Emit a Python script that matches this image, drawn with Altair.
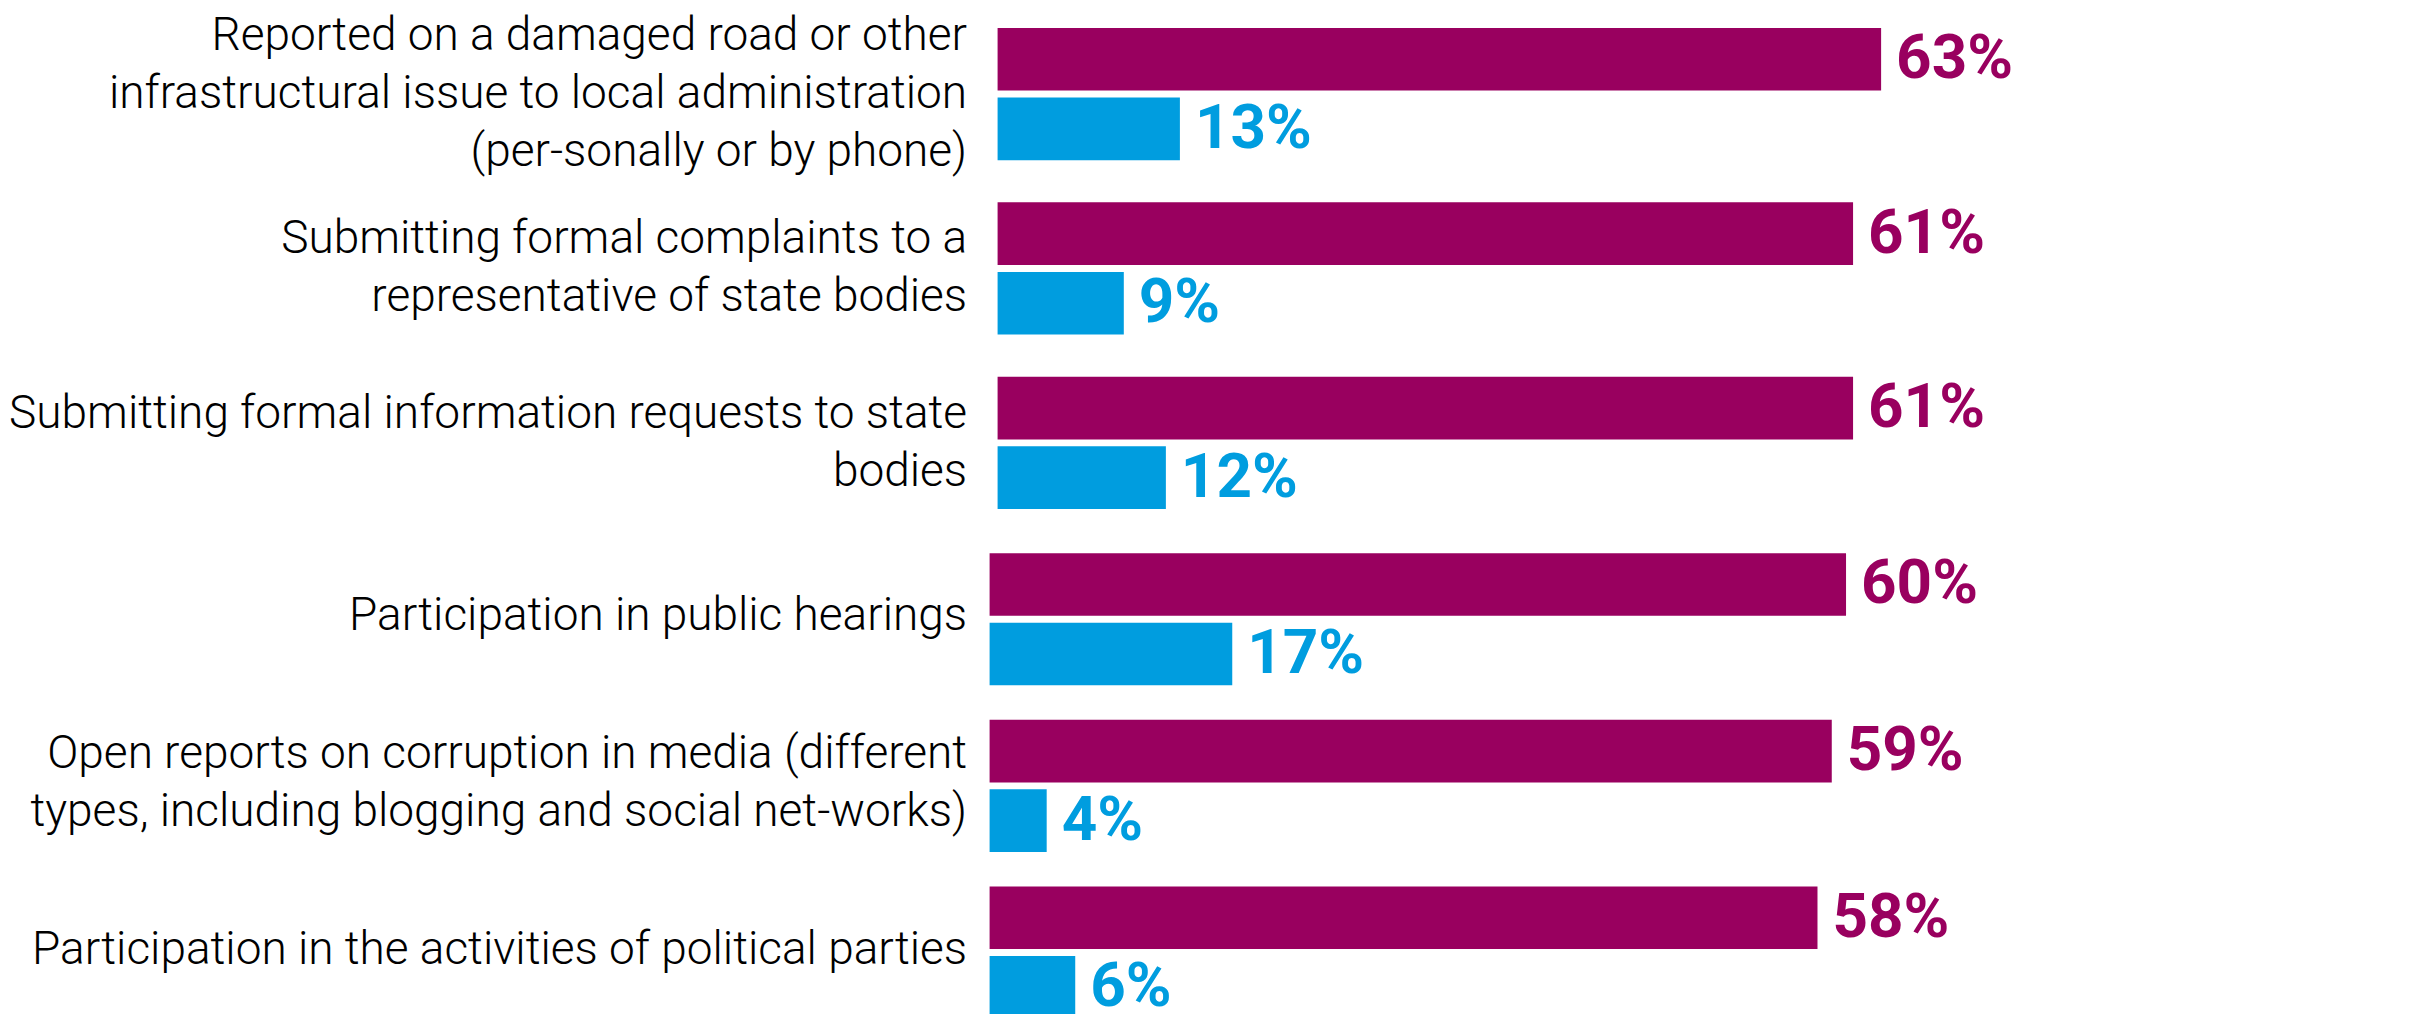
import altair as alt
import pandas as pd

categories = [
    "Reported on a damaged road or other\ninfrastructural issue to local administration\n(per-sonally or by phone)",
    "Submitting formal complaints to a\nrepresentative of state bodies",
    "Submitting formal information requests to state\nbodies",
    "Participation in public hearings",
    "Open reports on corruption in media (different\ntypes, including blogging and social net-works)",
    "Participation in the activities of political parties",
]
series_names = ["Series A", "Series B"]
series_a = [63, 61, 61, 60, 59, 58]
series_b = [13, 9, 12, 17, 4, 6]
colors = ["#99005F", "#009DDF"]

rows = []
for c, a, b in zip(categories, series_a, series_b):
    rows.append({"category": c, "series": series_names[0], "value": a, "label": f"{a}%"})
    rows.append({"category": c, "series": series_names[1], "value": b, "label": f"{b}%"})
df = pd.DataFrame(rows)

LABEL_FONT = "Roboto"
VALUE_FONT = "Roboto"
LINE_H = 58


def panel(cats, width, height, x_min, x_max, pad_inner, pad_outer):
    sub = df[df["category"].isin(cats)]
    y = alt.Y(
        "category:N",
        sort=cats,
        scale=alt.Scale(paddingInner=pad_inner, paddingOuter=pad_outer),
        axis=alt.Axis(
            title=None, domain=False, ticks=False, grid=False,
            labelExpr="split(datum.label, '\\n')",
            labelOffset=alt.ExprRef(expr=f"-(length(split(datum.label, '\\n')) - 1) * {LINE_H / 2}"),
            labelFont=LABEL_FONT, labelFontSize=46, labelFontWeight=300,
            labelColor="#000000", labelPadding=23, labelLineHeight=LINE_H,
            labelAlign="right", labelBaseline="middle", labelLimit=0,
        ),
    )
    yoff = alt.YOffset("series:N", sort=series_names, scale=alt.Scale(paddingInner=0.1))
    color = alt.Color("series:N", scale=alt.Scale(domain=series_names, range=colors), legend=None)
    x = alt.X("value:Q", scale=alt.Scale(domain=[x_min, x_max], nice=False, zero=False), axis=None)
    base = alt.Chart(sub)
    bars = base.mark_bar().encode(y=y, yOffset=yoff, x=x, x2=alt.datum(0), color=color)
    text = base.mark_text(
        align="left", baseline="middle", dx=15, font=VALUE_FONT, fontSize=62, fontWeight="bold"
    ).encode(y=y, yOffset=yoff, x=x, text="label:N", color=color)
    return (bars + text).properties(width=width, height=height)


top = panel(categories[:3], 1411, 520.7, -0.57, 100, 0.242, 0.113)
bottom = panel(categories[3:], 1428, 508.4, 0, 100, 0.24, 0.145)

chart = (
    alt.vconcat(top, bottom, spacing=0)
    .properties(padding=0, background="#ffffff")
    .configure_view(strokeWidth=0, stroke="transparent")
)

chart.save("out.html", embed_options={"renderer": "svg", "actions": False})
